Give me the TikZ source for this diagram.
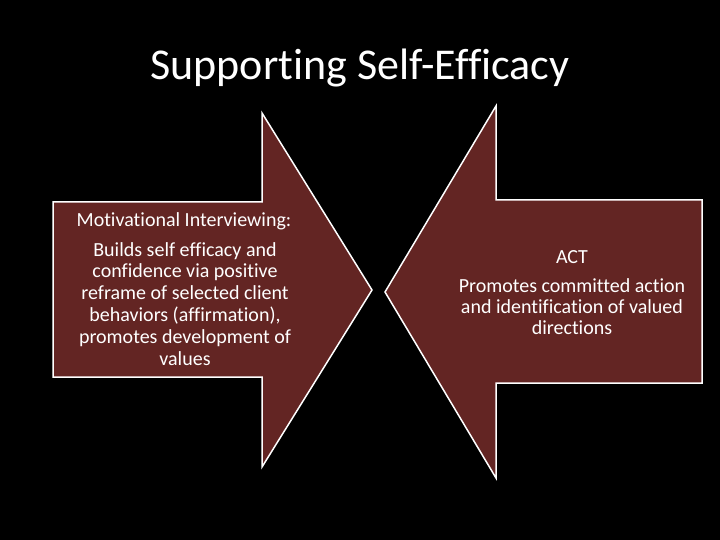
\documentclass[tikz,border=0pt]{standalone}
\usepackage{fontspec}
\setmainfont{Carlito}[Ligatures=NoCommon]
\definecolor{arrowred}{HTML}{632523}

\begin{document}
\begin{tikzpicture}[x=1pt, y=-1pt,
    bigarrow/.style={fill=arrowred, draw=white, line width=1.5pt, line join=miter},
    arrowtext/.style={text=white, align=center, inner sep=0pt, font=\fontsize{20}{21.8}\selectfont}]
\fill[black] (0,0) rectangle (720,540);
\useasboundingbox (0,0) rectangle (720,540);
\node[text=white, font=\fontsize{44}{52}\selectfont] (title) at (360,68) {Supporting Self-Efficacy};
\draw[bigarrow] (53,202) -- (262,202) -- (262,113) -- (372,290) -- (262,467) -- (262,377) -- (53,377) -- cycle;
\draw[bigarrow] (702,200) -- (496,200) -- (496,106) -- (385,292) -- (496,478) -- (496,383) -- (702,383) -- cycle;
\node[arrowtext] (mihead) at (184,221) {Motivational Interviewing:};
\node[arrowtext, anchor=north] (mibody) at (185,242) {Builds self efficacy and\\confidence via positive\\reframe of selected client\\behaviors (affirmation),\\promotes development of\\values};
\node[arrowtext] (acthead) at (572,257) {ACT};
\node[arrowtext, anchor=north, font=\fontsize{20}{21}\selectfont] (actbody) at (572,278) {Promotes committed action\\and identification of valued\\directions};
\end{tikzpicture}
\end{document}
